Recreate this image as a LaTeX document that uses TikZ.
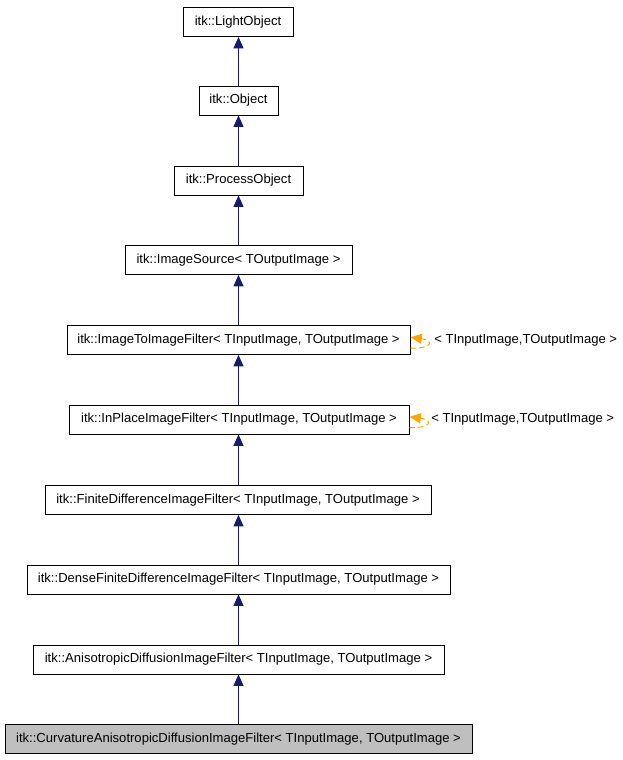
\documentclass[tikz,border=0pt]{standalone}
\usepackage{fontspec}
\setmainfont{Liberation Sans}
\usetikzlibrary{arrows.meta}
\definecolor{edgeblue}{HTML}{191970}
\definecolor{tmplorange}{HTML}{FFA500}
\tikzset{
  box/.style={draw=black, fill=white, line width=0.75pt, minimum height=21.75pt, inner sep=0pt, font=\fontsize{9.8}{11}\selectfont},
  curbox/.style={box, fill=black!25},
  inh/.style={draw=edgeblue, line width=0.75pt, -{Triangle[length=8.5pt,width=7.5pt]}},
  tmpl/.style={draw=tmplorange, line width=0.75pt, dash pattern=on 4pt off 2.5pt, -{Triangle[length=8.5pt,width=7.5pt]}},
  lbl/.style={font=\fontsize{9.8}{11}\selectfont, inner sep=0pt, anchor=west}
}
\begin{document}
\begin{tikzpicture}[x=0.75pt,y=-0.75pt]
\useasboundingbox (0,0) rectangle (623,760);
\node[box, minimum width=82.5pt] (n1) at (238,22) {itk::LightObject};
\node[box, minimum width=59.25pt] (n2) at (238.5,100.5) {itk::Object};
\node[box, minimum width=96.75pt] (n3) at (238.5,180.5) {itk::ProcessObject};
\node[box, minimum width=170.25pt] (n4) at (238.5,260) {itk::ImageSource< TOutputImage >};
\node[box, minimum width=257.25pt] (n5) at (238.5,340) {itk::ImageToImageFilter< TInputImage, TOutputImage >};
\node[box, minimum width=255pt] (n6) at (239,419.5) {itk::InPlaceImageFilter< TInputImage, TOutputImage >};
\node[box, minimum width=289.5pt] (n7) at (238,500) {itk::FiniteDifferenceImageFilter< TInputImage, TOutputImage >};
\node[box, minimum width=317.25pt] (n8) at (238.5,579.5) {itk::DenseFiniteDifferenceImageFilter< TInputImage, TOutputImage >};
\node[box, minimum width=308.25pt] (n9) at (238.5,659.5) {itk::AnisotropicDiffusionImageFilter< TInputImage, TOutputImage >};
\node[curbox, minimum width=350.25pt] (n10) at (238.5,739) {itk::CurvatureAnisotropicDiffusionImageFilter< TInputImage, TOutputImage >};
\draw[inh] (n2.north) -- (n2.north |- n1.south);
\draw[inh] (n3.north) -- (n3.north |- n2.south);
\draw[inh] (n4.north) -- (n4.north |- n3.south);
\draw[inh] (n5.north) -- (n5.north |- n4.south);
\draw[inh] (n6.north -| n5.north) -- (n5.south);
\draw[inh] (n7.north -| n5.north) -- (n6.south -| n5.north);
\draw[inh] (n8.north) -- (n8.north |- n7.south);
\draw[inh] (n9.north) -- (n9.north |- n8.south);
\draw[inh] (n10.north) -- (n10.north |- n9.south);
\draw[tmpl] ([yshift=-6pt]n5.east) .. controls +(22,1) and +(24,3) .. ([yshift=2pt]n5.east);
\node[lbl] (l5) at (434,340) {< TInputImage,TOutputImage >};
\draw[tmpl] ([yshift=-6pt]n6.east) .. controls +(22,1) and +(24,3) .. ([yshift=2pt]n6.east);
\node[lbl] (l6) at (431,419) {< TInputImage,TOutputImage >};
\end{tikzpicture}
\end{document}
